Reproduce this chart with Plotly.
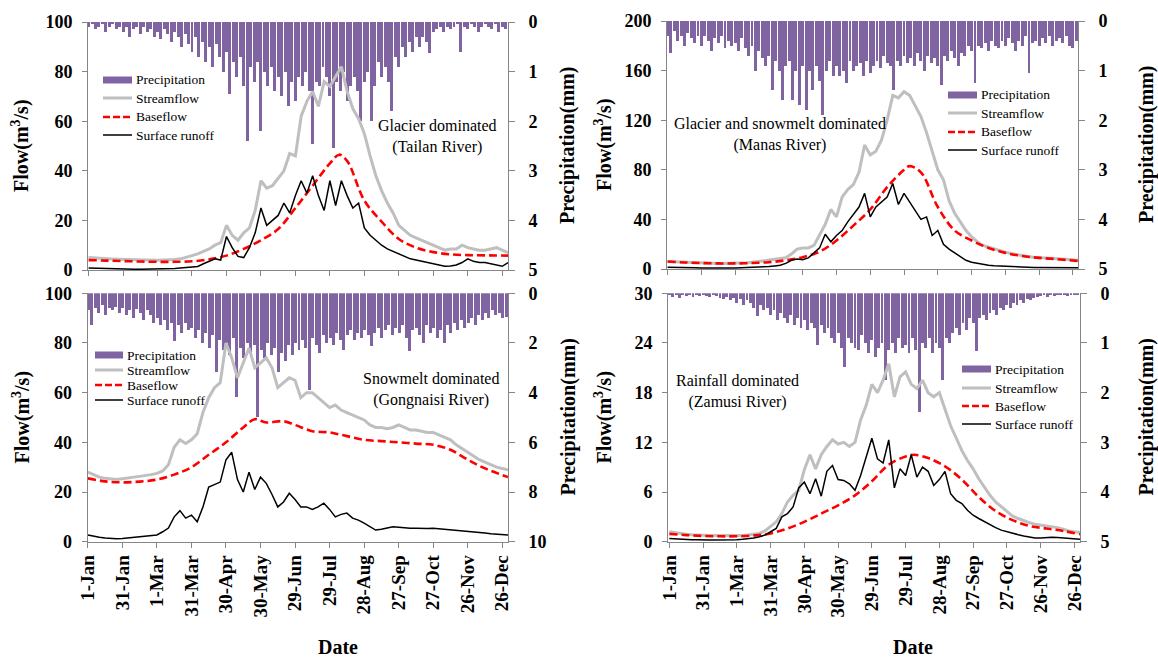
import plotly.graph_objects as go

W, H = 1158, 661
FONT = "Liberation Serif, Times New Roman, serif"

# ---------------- axis ticks ----------------
TICK_DAYS = [0, 30, 60, 90, 120, 150, 180, 210, 240, 270, 300, 330, 360]
TICK_LABELS = ["1-Jan", "31-Jan", "1-Mar", "31-Mar", "30-Apr", "30-May", "29-Jun",
               "29-Jul", "28-Aug", "27-Sep", "27-Oct", "26-Nov", "26-Dec"]

# ---------------- Tailan River (glacier dominated) ----------------
# flows every 5 days (day 0, 5, ..., 365)
STREAM_TAILAN = [5.0, 4.8, 4.6, 4.5, 4.4, 4.3, 4.2, 4.2, 4.1, 4.0,
                 4.0, 3.9, 3.9, 4.0, 4.0, 4.2, 4.5, 5.0, 5.8, 6.5,
                 7.5, 8.5, 10, 11, 18, 14, 12, 15, 17, 24,
                 36, 33, 34, 37, 40, 47, 46, 62, 68, 72,
                 66, 76, 74, 78, 82, 72, 65, 61, 55, 46,
                 38, 32, 27, 23, 18, 16, 14, 13, 12, 11,
                 10, 9, 8, 8.5, 8.5, 10, 9, 8.5, 8, 8,
                 8.5, 9, 8, 7]
RUNOFF_TAILAN = [0.8, 0.7, 0.6, 0.5, 0.5, 0.4, 0.4, 0.3, 0.3, 0.3,
                 0.3, 0.3, 0.3, 0.4, 0.5, 0.6, 0.8, 1.0, 1.2, 1.4,
                 2.5, 3.5, 4.5, 4.0, 13.5, 9, 5.5, 5, 9, 15,
                 25, 18, 20, 22, 27, 23, 30, 36, 31, 38,
                 30, 24, 36, 26, 36, 30, 25, 27, 17, 14,
                 12, 10, 8.5, 7.5, 6.5, 5.5, 4.5, 4.0, 3.5, 3.0,
                 2.5, 2.0, 1.5, 1.6, 2.0, 3.0, 4.5, 3.5, 3.0, 3.0,
                 2.5, 2.0, 1.5, 3.0]
BASE_DAYS_TAILAN = [0, 15, 30, 45, 60, 75, 90, 105, 120, 135, 150, 165, 180, 195, 210, 218,
                    225, 240, 255, 270, 285, 300, 315, 330, 345, 365]
BASE_TAILAN = [4.0, 3.8, 3.6, 3.4, 3.3, 3.3, 3.5, 4.3, 5.8, 8.5, 12, 16.5, 25, 34, 43, 46.5,
               44, 28, 19.5, 12.5, 9, 7.2, 6.3, 6.0, 5.9, 5.8]
# precipitation every 3 days (day 0, 3, ..., 363)
PRECIP_TAILAN = [0.1, 0.05, 0.15, 0.1, 0.05, 0.2, 0.1, 0.05, 0.15, 0.1,
                 0.2, 0.1, 0.3, 0.15, 0.1, 0.25, 0.1, 0.2, 0.15, 0.3,
                 0.2, 0.35, 0.15, 0.25, 0.4, 0.2, 0.3, 0.5, 0.25, 0.45,
                 0.6, 0.3, 0.7, 0.4, 0.8, 0.5, 0.9, 0.45, 0.7, 1.0,
                 0.6, 1.45, 0.8, 1.1, 0.7, 1.3, 2.4, 0.9, 1.2, 0.8,
                 2.2, 1.0, 1.3, 0.9, 1.4, 1.1, 1.5, 1.0, 1.7, 1.2,
                 1.6, 1.1, 1.3, 1.0, 1.4, 2.45, 1.2, 1.3, 0.9, 1.1,
                 1.5, 2.55, 1.2, 1.4, 1.0, 1.6, 1.3, 1.1, 1.4, 2.0,
                 1.2, 1.0, 2.0, 1.3, 0.8, 1.1, 0.9, 1.2, 1.8, 0.7,
                 0.9, 0.5, 0.7, 0.4, 0.6, 0.3, 0.5, 0.3, 0.4, 0.63,
                 0.2, 0.15, 0.1, 0.2, 0.1, 0.15, 0.1, 0.05, 0.6, 0.1,
                 0.15, 0.05, 0.1, 0.2, 0.1, 0.05, 0.1, 0.15, 0.05, 0.2, 0.1, 0.15]

# ---------------- Manas River (glacier and snowmelt dominated) ----------------
STREAM_MANAS = [6, 5.8, 5.5, 5.2, 5.0, 4.8, 4.6, 4.5, 4.5, 4.4,
                4.4, 4.5, 4.6, 4.8, 5.0, 5.5, 6, 6.5, 7, 7.5,
                8, 9, 12, 16, 17, 17, 19, 27, 36, 48,
                42, 58, 64, 68, 78, 100, 92, 95, 104, 120,
                140, 138, 143, 140, 132, 123, 110, 95, 80, 72,
                55, 45, 38, 31, 26, 22, 19, 17.5, 16, 14.5,
                13.5, 12.5, 11.5, 10.5, 10, 9.5, 9.3, 9, 8.8, 8.5,
                8.2, 8, 7.5, 7]
RUNOFF_MANAS = [1.5, 1.3, 1.2, 1.1, 1.0, 1.0, 0.9, 0.8, 0.8, 0.8,
                0.8, 0.8, 0.9, 1.0, 1.2, 1.3, 1.5, 1.6, 2.0, 2.5,
                3.0, 4.5, 7, 8, 7.5, 9, 13, 17, 28, 22,
                27, 31, 38, 44, 50, 61, 42, 50, 54, 58,
                69, 52, 61, 54, 48, 40, 42, 27, 31, 20,
                16, 13, 10, 7, 5.5, 4.5, 3.5, 3.0, 2.6, 2.3,
                2.0, 1.8, 1.6, 1.5, 1.4, 1.3, 1.2, 1.2, 1.1, 1.1,
                1.0, 1.0, 1.0, 1.0]
BASE_DAYS_MANAS = [0, 15, 30, 45, 60, 75, 90, 105, 120, 135, 150, 165, 180, 195, 210, 215,
                   225, 240, 255, 270, 285, 300, 315, 330, 345, 365]
BASE_MANAS = [6, 5.3, 4.8, 4.5, 4.5, 4.8, 5.5, 7, 9.5, 14, 23, 35, 48, 66, 80, 83,
              78, 50, 31, 23, 17, 13, 10.5, 9, 8, 6.5]
PRECIP_MANAS = [0.3, 0.65, 0.2, 0.4, 0.3, 0.5, 0.25, 0.35, 0.45, 0.3,
                0.5, 0.3, 0.4, 0.6, 0.35, 0.45, 0.3, 0.55, 0.4, 0.5,
                0.45, 0.6, 0.35, 0.55, 0.7, 0.5, 1.0, 0.6, 0.75, 0.9,
                0.7, 1.4, 0.8, 1.0, 1.6, 0.9, 0.8, 1.6, 1.0, 1.7,
                0.9, 1.8, 1.0, 1.4, 0.9, 1.2, 1.9, 1.0, 0.8, 1.1,
                0.9, 1.1, 1.0, 1.25, 0.8, 1.0, 0.9, 0.85, 1.1, 0.8,
                1.05, 0.9, 0.8, 0.95, 0.7, 0.85, 0.9, 1.4, 0.8, 0.9,
                0.7, 0.85, 0.75, 0.9, 0.65, 0.8, 1.0, 0.7, 0.85, 0.75,
                0.9, 1.3, 0.7, 0.8, 0.6, 0.75, 0.9, 0.65, 0.7, 0.5,
                0.6, 1.25, 0.5, 0.55, 0.45, 0.6, 0.4, 0.5, 0.55, 0.4,
                0.5, 0.35, 0.45, 0.6, 0.4, 0.5, 0.3, 1.05, 0.45, 0.4,
                0.5, 0.35, 0.45, 0.3, 0.5, 0.4, 0.35, 0.45, 0.3, 0.5, 0.55, 0.4]

# ---------------- Gongnaisi River (snowmelt dominated) ----------------
STREAM_GONGNAISI = [28, 27, 26, 25.5, 25.2, 25, 25.3, 25.5, 26, 26.3,
                    26.5, 27, 27.5, 28.5, 31, 38, 41, 39.5, 41, 43.5,
                    52, 58, 62, 64, 80, 74, 66, 72, 78, 70,
                    72, 74, 70, 62, 64, 66, 65, 58, 60, 60,
                    58, 56, 54, 55, 53, 52, 51, 50, 49, 47,
                    46, 46, 45.5, 46, 47, 46, 45, 45, 44.5, 44,
                    44, 43, 42, 41, 39, 37.5, 36, 34.5, 33, 32,
                    31, 30, 29.5, 29]
RUNOFF_GONGNAISI = [2.7, 2.2, 1.8, 1.5, 1.3, 1.2, 1.3, 1.5, 1.7, 2.0,
                    2.2, 2.4, 2.7, 4, 5.5, 10, 12.5, 9.5, 10.7, 8,
                    14, 22, 23, 24, 33, 36, 25, 20, 28, 21,
                    26, 23.5, 19, 14, 16, 19.5, 17, 14, 14, 13,
                    14, 15.5, 13, 10, 11, 11.5, 9.5, 8.7, 7.5, 6,
                    4.7, 5, 5.5, 6, 5.8, 5.5, 5.4, 5.4, 5.2, 5.3,
                    5.4, 5.2, 5, 4.8, 4.7, 4.5, 4.2, 4, 3.8, 3.5,
                    3.2, 3.0, 2.8, 2.7]
BASE_DAYS_GONGNAISI = [0, 15, 30, 45, 60, 75, 90, 105, 120, 135, 145, 155, 170, 180, 195, 210,
                       225, 240, 255, 270, 285, 300, 315, 330, 345, 365]
BASE_GONGNAISI = [25.5, 24.3, 23.9, 24.2, 25, 27, 30, 35, 40, 46, 49.3, 48, 48.5, 47, 44.5, 44,
                  42.5, 41, 40.5, 40, 39.5, 39, 37, 33, 29.5, 26]
PRECIP_GONGNAISI = [0.7, 1.3, 0.6, 0.8, 0.5, 0.9, 0.6, 0.7, 0.55, 0.8,
                    0.6, 0.9, 0.7, 1.0, 0.65, 0.8, 1.1, 0.7, 0.9, 1.2,
                    1.0, 1.3, 1.1, 1.5, 1.2, 1.95, 1.3, 1.6, 1.2, 1.5,
                    1.4, 1.8, 1.5, 2.0, 1.6, 2.2, 1.7, 3.2, 1.9, 2.3,
                    2.0, 2.5, 1.8, 4.2, 2.2, 2.6, 2.0, 2.4, 2.1, 5.0,
                    2.3, 2.6, 2.0, 2.5, 2.2, 3.2, 2.4, 2.75, 2.1, 2.5,
                    2.0, 2.3, 1.9, 2.2, 3.9, 1.8, 2.1, 2.4, 1.7, 2.0,
                    1.8, 2.1, 1.6, 1.9, 2.3, 1.7, 1.5, 1.9, 1.6, 1.8,
                    1.5, 1.7, 2.15, 1.6, 1.4, 1.8, 1.5, 1.3, 1.7, 1.4,
                    1.6, 1.3, 1.8, 2.35, 1.5, 1.4, 1.7, 2.0, 1.3, 1.6,
                    1.4, 1.8, 1.5, 2.0, 1.3, 1.6, 1.2, 1.5, 1.1, 1.4,
                    1.2, 1.0, 1.3, 0.9, 1.1, 0.8, 1.0, 0.7, 0.9, 0.8, 1.0, 0.95]

# ---------------- Zamusi River (rainfall dominated) ----------------
STREAM_ZAMUSI = [1.2, 1.1, 0.95, 0.9, 0.85, 0.8, 0.8, 0.75, 0.75, 0.75,
                 0.7, 0.7, 0.7, 0.75, 0.8, 0.9, 1.0, 1.3, 1.8, 2.4,
                 3.4, 4.8, 5.6, 6.2, 8.7, 10.5, 8.8, 10.5, 11.5, 12.3,
                 11.8, 12, 11.5, 12, 14.7, 16.5, 19, 18, 19.5, 21.5,
                 17.5, 19.9, 20.5, 19, 18.5, 19.5, 18, 17.5, 18, 16,
                 14, 12.5, 11, 9.8, 8.8, 7.6, 6.6, 5.6, 4.8, 4.2,
                 3.6, 3.1, 2.8, 2.5, 2.3, 2.1, 2.0, 1.9, 1.8, 1.7,
                 1.5, 1.3, 1.2, 1.1]
RUNOFF_ZAMUSI = [0.4, 0.35, 0.3, 0.3, 0.25, 0.25, 0.2, 0.2, 0.2, 0.2,
                 0.2, 0.2, 0.25, 0.3, 0.35, 0.45, 0.6, 0.8, 1.2, 1.6,
                 3.0, 3.4, 4.2, 6.5, 7.2, 5.8, 7.6, 5.5, 8.5, 9.2,
                 7.5, 7.4, 7.0, 6.2, 8.0, 10.2, 12.5, 10, 9.5, 12.3,
                 6.5, 8.8, 8.0, 10.5, 7.8, 9.0, 8.5, 6.8, 7.5, 8.5,
                 5.8, 5.0, 4.6, 3.8, 3.2, 2.8, 2.4, 2.0, 1.7, 1.4,
                 1.2, 1.0, 0.85, 0.7, 0.55, 0.45, 0.45, 0.5, 0.55, 0.5,
                 0.45, 0.4, 0.35, 0.3]
BASE_DAYS_ZAMUSI = [0, 15, 30, 45, 60, 75, 90, 105, 120, 135, 150, 165, 180, 195, 210, 218,
                    230, 245, 260, 275, 290, 305, 320, 335, 350, 365]
BASE_ZAMUSI = [0.95, 0.8, 0.7, 0.65, 0.65, 0.75, 1.0, 1.6, 2.4, 3.4, 4.4, 5.6, 7.3, 9.3, 10.3, 10.5,
               10.1, 9.1, 7.5, 5.4, 3.7, 2.6, 1.9, 1.6, 1.3, 0.9]
PRECIP_ZAMUSI = [0.05, 0.08, 0.04, 0.1, 0.05, 0.06, 0.03, 0.08, 0.05, 0.07,
                 0.04, 0.06, 0.09, 0.05, 0.07, 0.1, 0.12, 0.08, 0.15, 0.1,
                 0.2, 0.12, 0.25, 0.15, 0.2, 0.3, 0.47, 0.25, 0.35, 0.3,
                 0.45, 0.35, 0.55, 0.4, 0.5, 0.6, 0.45, 0.65, 0.5, 0.7,
                 0.55, 0.75, 0.6, 0.7, 1.05, 0.65, 0.8, 0.7, 0.9, 1.0,
                 0.8, 1.1, 1.48, 0.9, 1.0, 1.1, 1.15, 0.85, 1.0, 1.2,
                 0.95, 1.28, 1.1, 1.0, 1.75, 1.15, 1.0, 1.2, 0.9, 1.1,
                 1.05, 1.2, 0.9, 1.15, 2.4, 1.0, 1.1, 0.9, 1.2, 1.0,
                 1.1, 1.75, 0.9, 1.0, 0.8, 0.7, 0.85, 0.6, 0.75, 0.5,
                 0.6, 1.17, 0.5, 0.45, 0.55, 0.4, 0.35, 0.45, 0.3, 0.35,
                 0.25, 0.3, 0.2, 0.25, 0.15, 0.2, 0.12, 0.15, 0.1, 0.08,
                 0.06, 0.05, 0.08, 0.04, 0.06, 0.03, 0.05, 0.04, 0.07, 0.03, 0.05, 0.04]

LEGEND_NAMES = ["Precipitation", "Streamflow", "Baseflow", "Surface runoff"]

# ---------------- styles ----------------
C_PRECIP = "#8064A2"
C_STREAM = "#BFBFBF"
C_BASE = "#FF0000"
C_RUNOFF = "#000000"
C_AXIS = "#868686"

panels = [
    dict(stream=STREAM_TAILAN, runoff=RUNOFF_TAILAN, bdays=BASE_DAYS_TAILAN, base=BASE_TAILAN,
         precip=PRECIP_TAILAN, frange=[0, 100], fdtick=20, prange=[5, 0], pdtick=1,
         xpx=(88, 508), ypx=(22, 270), xr=[-0.5, 365], bottom=False,
         label="Glacier dominated<br>(Tailan River)", lab=(437, 136.5),
         leg=(103, 132, 135, [80, 98, 117, 135])),
    dict(stream=STREAM_MANAS, runoff=RUNOFF_MANAS, bdays=BASE_DAYS_MANAS, base=BASE_MANAS,
         precip=PRECIP_MANAS, frange=[0, 200], fdtick=40, prange=[5, 0], pdtick=1,
         xpx=(667, 1078), ypx=(21, 269), xr=[-0.5, 364.5], bottom=False,
         label="Glacier and snowmelt dominated<br>(Manas River)", lab=(779.5, 134),
         leg=(948, 977, 980, [95, 113, 132, 150])),
    dict(stream=STREAM_GONGNAISI, runoff=RUNOFF_GONGNAISI, bdays=BASE_DAYS_GONGNAISI,
         base=BASE_GONGNAISI, precip=PRECIP_GONGNAISI, frange=[0, 100], fdtick=20,
         prange=[10, 0], pdtick=2, xpx=(87.5, 508), ypx=(293.3, 541.7), xr=[-0.3, 365],
         bottom=True, label="Snowmelt dominated<br>(Gongnaisi River)", lab=(431, 389.5),
         leg=(95, 123, 126, [355, 370, 385, 400])),
    dict(stream=STREAM_ZAMUSI, runoff=RUNOFF_ZAMUSI, bdays=BASE_DAYS_ZAMUSI, base=BASE_ZAMUSI,
         precip=PRECIP_ZAMUSI, frange=[0, 30], fdtick=6, prange=[5, 0], pdtick=1,
         xpx=(668, 1080), ypx=(293.3, 541.7), xr=[-1.2, 365], bottom=True,
         label="Rainfall dominated<br>(Zamusi River)", lab=(737.5, 391),
         leg=(962, 991, 994, [369, 388, 406, 424])),
]


def px(x):
    return x / W


def py(y):
    return 1 - y / H


def note(x, y, text, size, bold=False, angle=0, xanchor="center"):
    f = dict(family=FONT, size=size, color="black")
    if bold:
        f["weight"] = "bold"
    return dict(x=px(x), y=py(y), xref="paper", yref="paper", text=text, textangle=angle,
                showarrow=False, xanchor=xanchor, yanchor="middle", align="center",
                borderpad=0, font=f)


fig = go.Figure()
layout = dict(width=W, height=H, margin=dict(l=0, r=0, t=0, b=0),
              paper_bgcolor="white", plot_bgcolor="white", showlegend=False,
              template="none", font=dict(family=FONT, color="black"),
              bargap=0)
annotations = []
shapes = []

for k, p in enumerate(panels, start=1):
    xa = "x" if k == 1 else f"x{k}"
    ya_p = "y" if k == 1 else f"y{k}"
    ya_f = f"y{k + 4}"
    xkey = "xaxis" if k == 1 else f"xaxis{k}"
    ykey_p = "yaxis" if k == 1 else f"yaxis{k}"
    ykey_f = f"yaxis{k + 4}"

    pdays = [3 * i for i in range(len(p["precip"]))]
    fdays = [5 * i for i in range(len(p["stream"]))]

    fig.add_trace(go.Bar(x=pdays, y=p["precip"], width=2.6, marker_color=C_PRECIP,
                         marker_line_width=0, name="Precipitation", xaxis=xa, yaxis=ya_p))
    fig.add_trace(go.Scatter(x=fdays, y=p["stream"], mode="lines", name="Streamflow",
                             line=dict(color=C_STREAM, width=3), xaxis=xa, yaxis=ya_f))
    fig.add_trace(go.Scatter(x=p["bdays"], y=p["base"], mode="lines", name="Baseflow",
                             line=dict(color=C_BASE, width=2.6, dash="8px,4px", shape="spline"),
                             xaxis=xa, yaxis=ya_f))
    fig.add_trace(go.Scatter(x=fdays, y=p["runoff"], mode="lines", name="Surface runoff",
                             line=dict(color=C_RUNOFF, width=1.5), xaxis=xa, yaxis=ya_f))

    x0, x1 = p["xpx"]
    yt, yb = p["ypx"]
    layout[xkey] = dict(domain=[px(x0), px(x1)], range=p["xr"], anchor=ya_p,
                        tickmode="array", tickvals=TICK_DAYS, ticktext=TICK_LABELS,
                        tickangle=-90, showticklabels=p["bottom"], ticks="outside",
                        ticklen=5, tickcolor=C_AXIS, showline=True, linecolor=C_AXIS,
                        linewidth=1, showgrid=False, zeroline=False,
                        tickfont=dict(family=FONT, size=19, color="black", weight="bold"))
    layout[ykey_p] = dict(domain=[py(yb), py(yt)], range=p["prange"], dtick=p["pdtick"],
                          anchor=xa, side="right", ticks="outside", ticklen=6,
                          tickcolor=C_AXIS, showline=True, linecolor=C_AXIS, linewidth=1,
                          showgrid=False, zeroline=False, ticklabelstandoff=10,
                          tickfont=dict(family=FONT, size=18, color="black", weight="bold"))
    layout[ykey_f] = dict(overlaying=ya_p, range=p["frange"], dtick=p["fdtick"],
                          anchor=xa, side="left", ticks="outside", ticklen=5,
                          tickcolor=C_AXIS, showline=True, linecolor=C_AXIS, linewidth=1,
                          showgrid=False, zeroline=False, ticklabelstandoff=6,
                          tickfont=dict(family=FONT, size=18, color="black", weight="bold"))

    ymid = (yt + yb) / 2
    left = x0 < 500
    # axis titles
    annotations.append(note(21 if left else 603, ymid, "Flow(m<sup>3</sup>/s)", 20,
                            bold=True, angle=-90))
    annotations.append(note(568 if left else 1146, ymid, "Precipitation(mm)", 20,
                            bold=True, angle=-90))
    # river label
    annotations.append(note(p["lab"][0], p["lab"][1], p["label"], 16))
    # legend
    lx0, lx1, tx, rows = p["leg"]
    shapes.append(dict(type="rect", xref="paper", yref="paper", x0=px(lx0), x1=px(lx1),
                       y0=py(rows[0] + 3.5), y1=py(rows[0] - 3.5), fillcolor=C_PRECIP,
                       line=dict(width=0)))
    shapes.append(dict(type="line", xref="paper", yref="paper", x0=px(lx0), x1=px(lx1),
                       y0=py(rows[1]), y1=py(rows[1]), line=dict(color=C_STREAM, width=3)))
    shapes.append(dict(type="line", xref="paper", yref="paper", x0=px(lx0), x1=px(lx1),
                       y0=py(rows[2]), y1=py(rows[2]),
                       line=dict(color=C_BASE, width=2.6, dash="7px,3px")))
    shapes.append(dict(type="line", xref="paper", yref="paper", x0=px(lx0), x1=px(lx1),
                       y0=py(rows[3]), y1=py(rows[3]), line=dict(color=C_RUNOFF, width=1.5)))
    for name, ry in zip(LEGEND_NAMES, rows):
        annotations.append(note(tx, ry, name, 13.5, xanchor="left"))

# x axis titles
for xc in (338, 913):
    annotations.append(note(xc, 647, "Date", 20, bold=True))

layout["annotations"] = annotations
layout["shapes"] = shapes
fig.update_layout(**layout)

fig.write_html("out.html", config={"displayModeBar": False},
               post_script="document.body.style.margin='0';")
